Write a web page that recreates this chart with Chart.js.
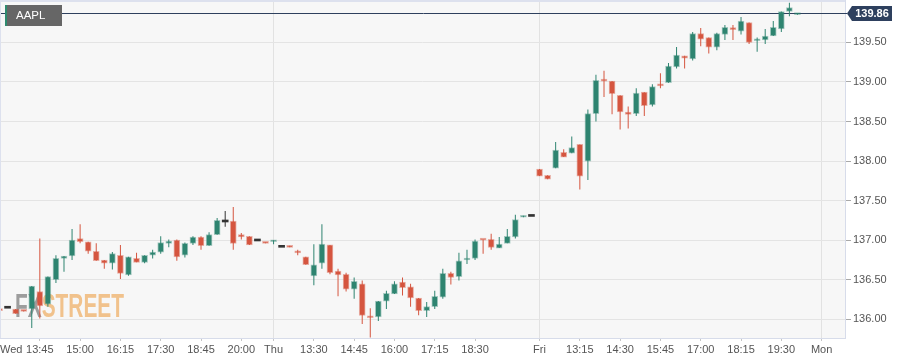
<!DOCTYPE html>
<html>
<head>
<meta charset="utf-8">
<title>AAPL</title>
<script src="https://cdn.jsdelivr.net/npm/chart.js@4.4.0/dist/chart.umd.min.js"></script>
<style>
  html, body { margin: 0; padding: 0; background: #fff; }
  canvas { display: block; }
</style>
</head>
<body>
<canvas id="aaplChart" width="916" height="364"></canvas>
<script>
const symbol = 'AAPL';
const lastPrice = 139.86;

// 15 min candles, index 0 = first visible candle (Wed)
const opens = [
  136.12, 136.14, 136.13, 136.11, 136.13, 136.35, 136.19, 136.50, 136.77, 136.80,
  137.02, 136.98, 136.86, 136.75, 136.71, 136.81, 136.56, 136.77, 136.72, 136.81,
  136.85, 136.96, 137.00, 136.81, 136.96, 137.04, 136.93, 137.07, 137.23, 137.24,
  137.07, 137.05, 136.99, 136.97, 136.98, 136.91, 136.93, 136.85, 136.79, 136.55,
  136.71, 136.94, 136.61, 136.57, 136.38, 136.45, 136.03, 136.03, 136.23, 136.32,
  136.47, 136.41, 136.27, 136.11, 136.16, 136.28, 136.58, 136.54, 136.75, 136.77,
  137.01, 137.01, 136.90, 136.96, 137.04, 137.29, 137.30, 137.90, 137.82, 137.91,
  138.11, 138.10, 138.21, 138.00, 138.60, 139.03, 139.01, 138.83, 138.62, 138.60,
  138.87, 138.71, 138.97, 138.99, 139.19, 139.33, 139.29, 139.61, 139.56, 139.44,
  139.60, 139.67, 139.64, 139.75, 139.52, 139.53, 139.58, 139.67, 139.89, 139.85
];
const highs = [
  136.12, 136.14, 136.13, 136.11, 136.42, 137.02, 136.54, 136.81, 136.80, 137.14,
  137.20, 136.98, 136.96, 136.75, 136.85, 136.94, 136.79, 136.84, 136.81, 136.88,
  137.05, 137.01, 137.01, 136.97, 137.05, 137.05, 137.10, 137.28, 137.37, 137.42,
  137.09, 137.05, 136.99, 136.97, 137.00, 136.91, 136.93, 136.88, 136.79, 136.95,
  137.20, 136.94, 136.64, 136.59, 136.53, 136.49, 136.14, 136.23, 136.36, 136.48,
  136.53, 136.45, 136.27, 136.22, 136.36, 136.64, 136.60, 136.84, 136.88, 137.01,
  137.01, 137.08, 137.04, 137.14, 137.32, 137.31, 137.30, 137.90, 137.82, 138.24,
  138.15, 138.31, 138.21, 138.65, 139.09, 139.14, 139.01, 138.83, 138.69, 138.92,
  138.87, 138.97, 139.11, 139.24, 139.44, 139.33, 139.63, 139.68, 139.56, 139.62,
  139.72, 139.72, 139.82, 139.75, 139.56, 139.67, 139.77, 139.89, 140.00, 139.86
];
const lows = [
  136.11, 136.14, 136.07, 136.10, 135.89, 136.01, 136.16, 136.46, 136.60, 136.75,
  136.96, 136.83, 136.74, 136.64, 136.63, 136.51, 136.55, 136.72, 136.71, 136.77,
  136.83, 136.91, 136.74, 136.78, 136.94, 136.88, 136.93, 137.07, 137.17, 136.88,
  137.01, 136.94, 136.99, 136.96, 136.95, 136.91, 136.91, 136.81, 136.69, 136.43,
  136.64, 136.57, 136.29, 136.35, 136.26, 135.94, 135.77, 135.98, 136.13, 136.32,
  136.30, 136.16, 136.05, 136.03, 136.13, 136.26, 136.44, 136.49, 136.70, 136.75,
  136.83, 136.88, 136.90, 136.96, 137.02, 137.29, 137.30, 137.81, 137.77, 137.91,
  138.05, 138.10, 137.64, 137.76, 138.50, 138.81, 138.59, 138.40, 138.41, 138.57,
  138.57, 138.69, 138.92, 138.99, 139.17, 139.17, 139.27, 139.45, 139.36, 139.40,
  139.53, 139.53, 139.60, 139.48, 139.38, 139.48, 139.58, 139.63, 139.83, 139.85
];
const closes = [
  136.11, 136.14, 136.07, 136.10, 136.42, 136.17, 136.54, 136.77, 136.80, 137.00,
  136.98, 136.86, 136.74, 136.71, 136.83, 136.58, 136.79, 136.72, 136.81, 136.85,
  136.97, 136.99, 136.79, 136.96, 137.04, 136.93, 137.07, 137.25, 137.23, 136.96,
  137.04, 136.94, 136.99, 136.96, 137.00, 136.91, 136.91, 136.84, 136.69, 136.69,
  136.95, 136.59, 136.56, 136.38, 136.48, 136.05, 136.02, 136.23, 136.33, 136.45,
  136.40, 136.27, 136.11, 136.16, 136.29, 136.58, 136.53, 136.74, 136.76, 136.99,
  137.00, 136.91, 136.95, 137.05, 137.26, 137.31, 137.30, 137.81, 137.77, 138.14,
  138.05, 138.17, 137.81, 138.60, 139.02, 139.01, 138.85, 138.62, 138.59, 138.86,
  138.70, 138.94, 138.95, 139.20, 139.34, 139.30, 139.61, 139.54, 139.44, 139.61,
  139.69, 139.66, 139.77, 139.50, 139.53, 139.58, 139.69, 139.89, 139.94, 139.86
];

// time axis labels, placed on candle index
const xTickIdx = [0, 5, 10, 15, 20, 25, 30, 34, 39, 44, 49, 54, 59, 67, 72, 77, 82, 87, 92, 97, 102];
const xTickLabels = ['Wed', '13:45', '15:00', '16:15', '17:30', '18:45', '20:00', 'Thu', '13:30', '14:45',
  '16:00', '17:15', '18:30', 'Fri', '13:15', '14:30', '15:45', '17:00', '18:15', '19:30', 'Mon'];
const dayLabels = ['Wed', 'Thu', 'Fri', 'Mon'];
const yTicks = [136.0, 136.5, 137.0, 137.5, 138.0, 138.5, 139.0, 139.5];

// visible window
const xMin = 0.06, xMax = 104.9;
const yMin = 135.764, yMax = 140.035;

const GREEN = '#2e8470', GREEN_EDGE = 'rgba(46,132,112,0.4)';
const RED = '#d5553f', RED_EDGE = 'rgba(213,85,63,0.45)';
const FLAT = '#333333';
const NAVY = '#2e405e';
const FONT = '"Liberation Sans", Arial, sans-serif';

const dir = i => closes[i] > opens[i] ? 1 : (closes[i] < opens[i] ? -1 : 0);
const fillFor = i => dir(i) > 0 ? GREEN : (dir(i) < 0 ? RED : FLAT);
const edgeFor = i => dir(i) > 0 ? GREEN_EDGE : (dir(i) < 0 ? RED_EDGE : FLAT);

const bodies = opens.map((o, i) => ({x: i, y: [o, closes[i]]}));
const wicks = lows.map((l, i) => ({x: i, y: [l, highs[i]]}));

const isDayTick = v => {
  const k = xTickIdx.indexOf(v);
  return k > 0 && dayLabels.includes(xTickLabels[k]);
};

const decor = {
  id: 'decor',
  beforeDraw(chart) {
    const {ctx, chartArea: a} = chart;
    ctx.save();
    ctx.fillStyle = '#f7f7f7';
    ctx.fillRect(a.left, a.top, a.right - a.left, a.bottom - a.top);
    ctx.restore();
  },
  beforeDatasetsDraw(chart) {
    const {ctx, chartArea: a, scales} = chart;
    ctx.save();
    // watermark
    ctx.font = 'bold 34px ' + FONT;
    ctx.textBaseline = 'alphabetic';
    const wFx = ctx.measureText('FX').width;
    const wSt = ctx.measureText('STREET').width;
    ctx.translate(a.left + 15, a.bottom - 21);
    ctx.scale(109 / (wFx + wSt), 1);
    ctx.fillStyle = '#9d9d9d';
    ctx.fillText('FX', 0, 0);
    ctx.fillStyle = '#f1c28c';
    ctx.fillText('STREET', wFx, 0);
    ctx.restore();

    // last price line
    const py = Math.floor(scales.y.getPixelForValue(lastPrice)) + 0.5;
    ctx.save();
    ctx.strokeStyle = NAVY;
    ctx.lineWidth = 1;
    ctx.beginPath();
    ctx.moveTo(a.left, py);
    ctx.lineTo(a.right + 2, py);
    ctx.stroke();
    ctx.restore();
  },
  afterDraw(chart) {
    const {ctx, chartArea: a, scales} = chart;
    ctx.save();
    // frame top/left
    ctx.fillStyle = '#dde1ee';
    ctx.fillRect(a.left, a.top, a.right - a.left, 2);
    ctx.fillRect(a.left, a.top, 1, a.bottom - a.top);

    // x labels
    ctx.font = '11px ' + FONT;
    ctx.fillStyle = '#555';
    ctx.textBaseline = 'middle';
    ctx.textAlign = 'left';
    xTickIdx.forEach((v, k) => {
      const t = xTickLabels[k];
      const w = ctx.measureText(t).width;
      const x = Math.max(a.left, scales.x.getPixelForValue(v) - w / 2);
      ctx.fillText(t, x, a.bottom + 12);
    });

    // symbol badge
    ctx.fillStyle = '#666';
    ctx.fillRect(a.left + 5, a.top + 5, 57, 21);
    ctx.fillStyle = '#2e8b6f';
    ctx.fillRect(a.left + 5, a.top + 5, 2, 21);
    ctx.fillStyle = '#fff';
    ctx.font = '11.5px ' + FONT;
    ctx.fillText(symbol, a.left + 16, a.top + 16);

    // last price tag
    const py = Math.floor(scales.y.getPixelForValue(lastPrice)) + 0.5;
    const tip = a.right + 2;
    ctx.fillStyle = NAVY;
    ctx.beginPath();
    ctx.moveTo(tip, py);
    ctx.lineTo(tip + 5, py - 7.5);
    ctx.lineTo(tip + 45, py - 7.5);
    ctx.lineTo(tip + 45, py + 7.5);
    ctx.lineTo(tip + 5, py + 7.5);
    ctx.closePath();
    ctx.fill();
    ctx.fillStyle = '#fff';
    ctx.font = 'bold 11px ' + FONT;
    ctx.textAlign = 'center';
    ctx.fillText(lastPrice.toFixed(2), tip + 25, py + 0.5);
    ctx.restore();
  }
};

new Chart(document.getElementById('aaplChart'), {
  type: 'bar',
  data: {
    datasets: [{
      label: 'wick',
      data: wicks,
      order: 2,
      grouped: false,
      barThickness: 1,
      inflateAmount: 0,
      borderWidth: 0,
      backgroundColor: c => fillFor(c.dataIndex)
    }, {
      label: 'body',
      data: bodies,
      order: 1,
      grouped: false,
      barThickness: 6,
      minBarLength: 2,
      borderSkipped: false,
      borderWidth: c => dir(c.dataIndex) === 0 ? 0 : 1,
      borderColor: c => edgeFor(c.dataIndex),
      backgroundColor: c => fillFor(c.dataIndex)
    }]
  },
  options: {
    responsive: false,
    devicePixelRatio: 1,
    animation: false,
    layout: { padding: 0 },
    plugins: { legend: { display: false }, tooltip: { enabled: false } },
    scales: {
      x: {
        type: 'linear',
        offset: false,
        min: xMin,
        max: xMax,
        afterBuildTicks: s => { s.ticks = xTickIdx.map(v => ({value: v})); },
        afterFit: s => { s.height = 26; s.paddingLeft = 0; s.paddingRight = 0; },
        ticks: { display: false },
        grid: {
          offset: false,
          color: c => c.tick && isDayTick(c.tick.value) ? '#e2e2e2' : 'rgba(0,0,0,0)',
          tickColor: c => c.tick && c.tick.value > xMin ? '#c6c6c6' : 'rgba(0,0,0,0)',
          tickLength: 3
        },
        border: { display: true, color: '#d7dcea' }
      },
      y: {
        position: 'right',
        min: yMin,
        max: yMax,
        afterBuildTicks: s => { s.ticks = yTicks.map(v => ({value: v})); },
        afterFit: s => { s.width = 71; s.paddingTop = 0; s.paddingBottom = 0; },
        ticks: {
          padding: 2,
          color: '#555',
          font: { family: FONT, size: 11 },
          callback: v => Number(v).toFixed(2)
        },
        grid: { color: '#e4e4e4', tickColor: '#a8a8a8', tickLength: 6 },
        border: { display: true, color: '#d7dcea' }
      }
    }
  },
  plugins: [decor]
});
</script>
</body>
</html>
